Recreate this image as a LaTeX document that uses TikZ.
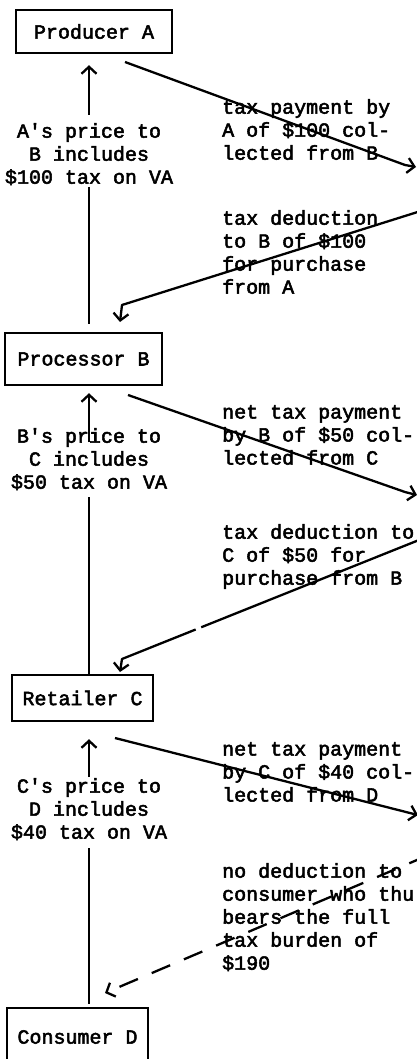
\documentclass[tikz,border=0pt]{standalone}
\usepackage{fontspec}
\setmonofont{Liberation Mono}[FakeBold=2.6]
\usetikzlibrary{arrows.meta}
\begin{document}
\begin{tikzpicture}[x=1pt,y=-1pt,
  tw/.style={font=\ttfamily\fontsize{20}{23}\selectfont},
  stage/.style={tw, draw, line width=2.4pt, inner sep=0pt},
  note/.style={tw, align=left, anchor=north west, inner sep=0pt},
  price/.style={tw, align=center, anchor=north, inner sep=0pt},
  link/.style={line width=2.3pt, line join=round},
  flow/.style={link, -{Straight Barb[length=7pt,width=15pt]}},
]
\path[use as bounding box] (0,0) rectangle (417,1059);
\clip (0,0) rectangle (417,1059);

% the four stages of the chain
\node[stage, minimum width=156pt, minimum height=43pt] (A) at (94,31.5) {Producer A};
\node[stage, minimum width=157pt, minimum height=52pt] (B) at (83.5,359) {Processor B};
\node[stage, minimum width=141pt, minimum height=46pt] (C) at (82.5,698) {Retailer C};
\node[stage, minimum width=141pt, minimum height=58pt] (D) at (77.5,1037) {Consumer D};

% prices passed down the chain
\node[price] (la) at (89,123) {A's price to\\B includes\\\$100 tax on VA};
\node[price] (lb) at (89,428) {B's price to\\C includes\\\$50 tax on VA};
\node[price] (lc) at (89,778) {C's price to\\D includes\\\$40 tax on VA};

% tax payments and deductions
\node[note] (r1) at (222,99)  {tax payment by\\A of \$100 col-\\lected from B};
\node[note] (r2) at (222,210) {tax deduction\\to B of \$100\\for purchase\\from A};
\node[note] (r3) at (222,405) {net tax payment\\by B of \$50 col-\\lected from C};
\node[note] (r4) at (222,524) {tax deduction to\\C of \$50 for\\purchase from B};
\node[note] (r5) at (222,742) {net tax payment\\by C of \$40 col-\\lected from D};
\node[note] (r6) at (222,863) {no deduction to\\consumer who thu\\bears the full\\tax burden of\\\$190};

% ends of the vertical price lines
\coordinate (va1) at (89,115);  \coordinate (va2) at (89,187);
\coordinate (vb1) at (89,442);  \coordinate (vb2) at (89,497);
\coordinate (vc1) at (89,777);  \coordinate (vc2) at (89,848);

\draw[flow, shorten >=11pt] (va1) -- (A.south -| va1);
\draw[link, shorten >=8pt] (va2) -- (B.north -| va2);
\draw[flow, shorten >=7pt] (vb1) -- (B.south -| vb1);
\draw[link] (vb2) -- (C.north -| vb2);
\draw[flow, shorten >=17pt] (vc1) -- (C.south -| vc1);
\draw[link, shorten >=3pt] (vc2) -- (D.north -| vc2);

% diagonal tax flows
\coordinate (p1s) at (125,62);  \coordinate (p1k) at (405,165); \coordinate (p1e) at (416,167);
\coordinate (q1s) at (424,210); \coordinate (q1k) at (122,305); \coordinate (q1e) at (120,322);
\coordinate (p2s) at (128,395); \coordinate (p2k) at (405,492); \coordinate (p2e) at (417,495);
\coordinate (q2s) at (424,538); \coordinate (q2k) at (122,659); \coordinate (q2e) at (120,672);
\coordinate (p3s) at (115,738); \coordinate (p3k) at (406,812); \coordinate (p3e) at (418,815);
\coordinate (q3s) at (424,857); \coordinate (q3e) at (105,993);

\draw[flow] (p1s) -- (p1k) -- (p1e);
\draw[flow] (q1s) -- (q1k) -- (q1e);
\draw[flow] (p2s) -- (p2k) -- (p2e);
\draw[flow, dash pattern=on 240pt off 6pt on 500pt] (q2s) -- (q2k) -- (q2e);
\draw[flow] (p3s) -- (p3k) -- (p3e);
\draw[flow, dash pattern=on 20pt off 15pt, dash phase=4pt] (q3s) -- (q3e);
\end{tikzpicture}
\end{document}
